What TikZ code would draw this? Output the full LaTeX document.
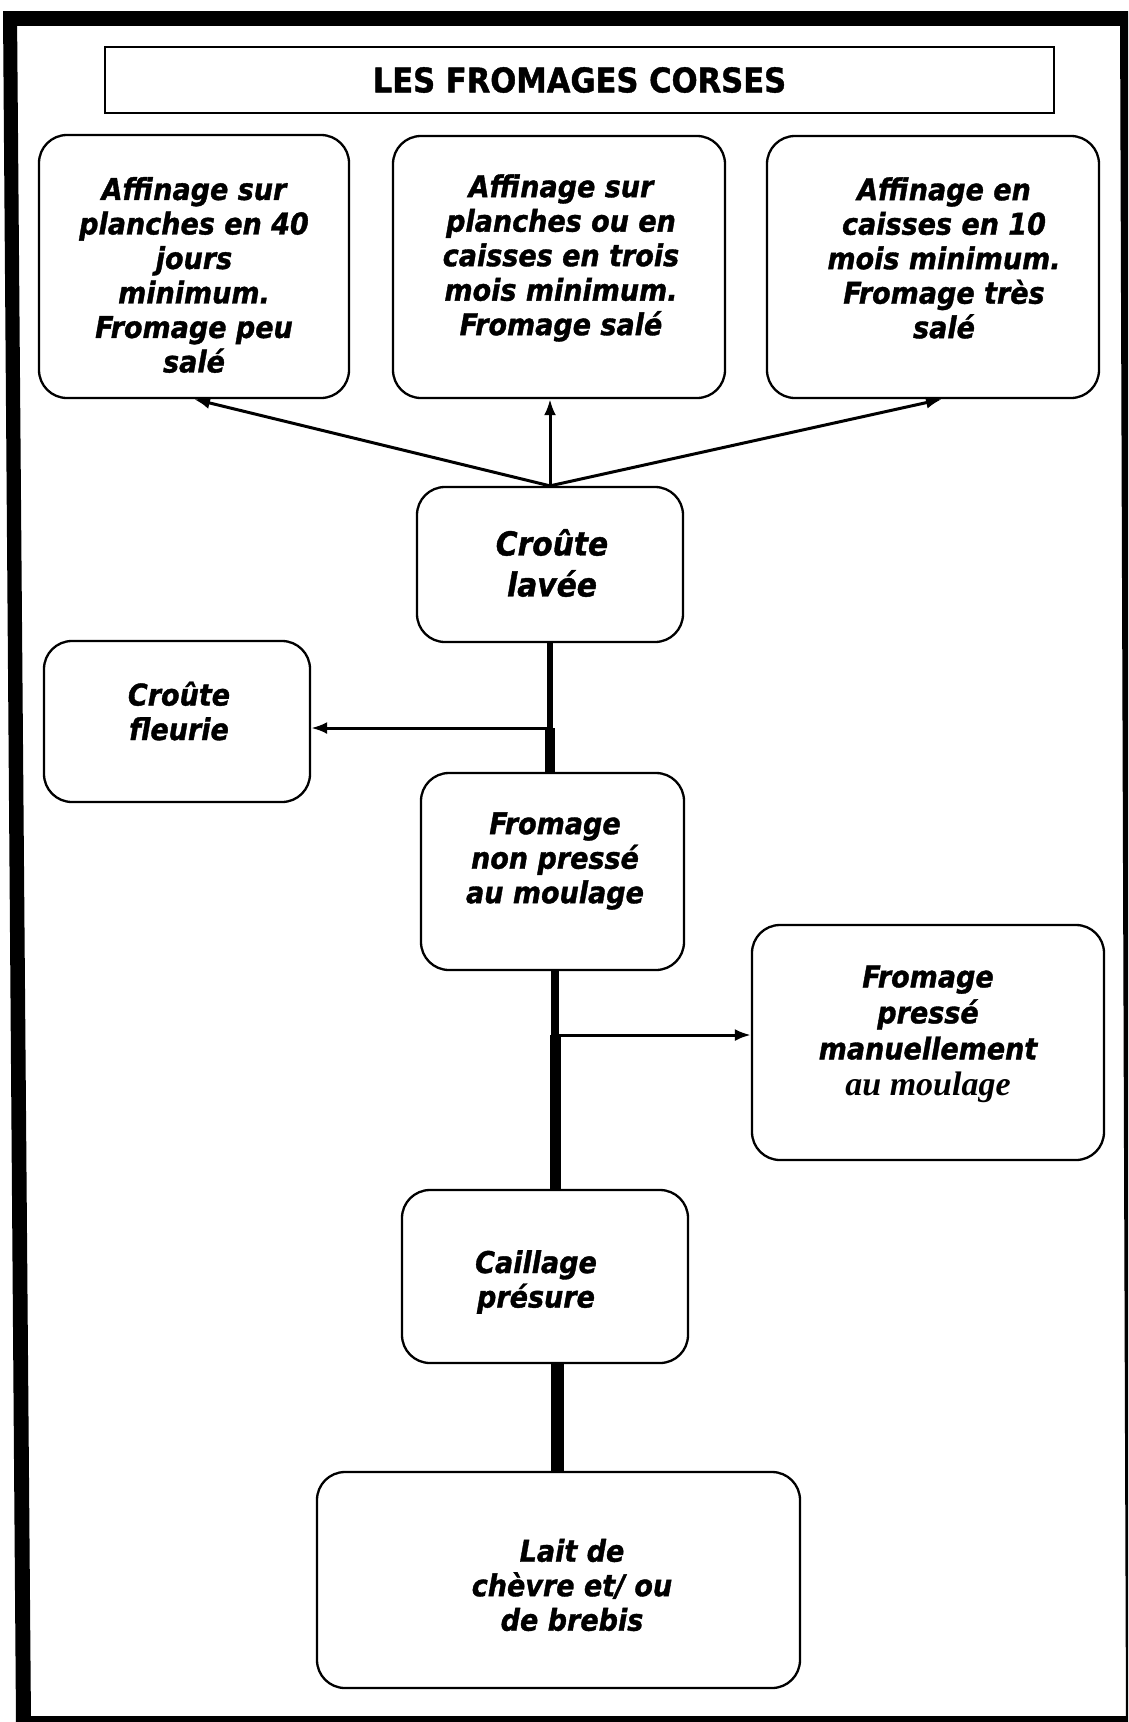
\documentclass[tikz,border=0pt]{standalone}
\usepackage{fontspec}
\setmainfont{DejaVu Sans}[FakeStretch=0.9, BoldItalicFeatures={FakeBold=1.2}, BoldFeatures={FakeBold=1.2}]
\newfontfamily\tnr{Liberation Serif}
\usetikzlibrary{arrows.meta,calc}
\begin{document}
\begin{tikzpicture}[x=1pt,y=-1pt,
  box/.style={draw, line width=2.3pt, rounded corners=28pt, inner sep=0pt},
  txt/.style={align=center, inner sep=0pt, font=\fontsize{30}{34.5}\selectfont\bfseries\itshape},
  arr/.style={line width=3pt, -{Latex[length=16pt,width=12pt]}},
  frame/.style={fill=black}]
\useasboundingbox (0,0) rectangle (1128,1722);
% outer frame (slightly skewed, as scanned)
\fill[frame] (3,11) -- (17,11) -- (31,1722) -- (16,1722) -- cycle;
\fill[frame] (3,11) rectangle (1128,26);
\fill[frame] (1120,11) -- (1128,11) -- (1128,1722) -- (1126,1722) -- cycle;
\fill[frame] (16,1716) rectangle (1128,1722);
% title
\node[draw, line width=2pt, minimum width=949pt, minimum height=66pt, inner sep=0pt,
  font=\fontsize{34}{40}\selectfont\bfseries] (title) at (579.5,80) {LES FROMAGES CORSES};
% boxes
\node[box, minimum width=310pt, minimum height=263pt] (a1) at (194,266.5) {};
\node[box, minimum width=332pt, minimum height=262pt] (a2) at (559,267) {};
\node[box, minimum width=332pt, minimum height=262pt] (a3) at (933,267) {};
\node[box, minimum width=266pt, minimum height=155pt] (cl) at (550,564.5) {};
\node[box, minimum width=266pt, minimum height=161pt] (fl) at (177,721.5) {};
\node[box, minimum width=263pt, minimum height=197pt] (fnp) at (552.5,871.5) {};
\node[box, minimum width=352pt, minimum height=235pt] (fp) at (928,1042.5) {};
\node[box, minimum width=286pt, minimum height=173pt] (cai) at (545,1276.5) {};
\node[box, minimum width=483pt, minimum height=216pt] (lait) at (558.5,1580) {};
% texts
\node[txt] (a1t) at (194,275) {Affinage sur\\planches en 40\\jours\\minimum.\\Fromage peu\\salé};
\node[txt] (a2t) at (561,258) {Affinage sur\\planches ou en\\caisses en trois\\mois minimum.\\Fromage salé};
\node[txt] (a3t) at (944,258) {Affinage en\\caisses en 10\\mois minimum.\\Fromage très\\salé};
\node[txt, font=\fontsize{33}{41}\selectfont\bfseries\itshape] (clt) at (552,563) {Croûte\\lavée};
\node[txt] (flt) at (179,711) {Croûte\\fleurie};
\node[txt] (fnpt) at (555,861) {Fromage\\non pressé\\au moulage};
\node[txt, font=\fontsize{30}{36}\selectfont\bfseries\itshape] (fpt) at (928,1034) {Fromage\\pressé\\manuellement\\{\tnr\fontsize{34}{36}\selectfont au moulage}};
\node[txt] (cait) at (536,1282) {Caillage\\présure};
\node[txt] (laitt) at (572,1585) {Lait de\\chèvre et/ ou\\de brebis};
% arrows to top boxes
\draw[arr] (cl.north) -- (a1.south);
\draw[arr] (cl.north) -- (cl.north |- a2.south);
\draw[arr] (cl.north) -- ($(a3.south)+(9,0)$);
% spine
\coordinate (j1) at (550,728);
\coordinate (j2) at (555,1035);
\coordinate (sp) at (557,0);
\draw[line width=6.5pt] (cl.south) -- (j1);
\draw[line width=10pt] (j1) -- (fnp.north -| j1);
\draw[arr] (j1) -- (j1 -| fl.east);
\draw[line width=8pt] (fnp.south -| j2) -- (j2);
\draw[line width=11pt] (j2) -- (cai.north -| j2);
\draw[arr] (j2) -- (j2 -| fp.west);
\draw[line width=13pt] (cai.south -| sp) -- (lait.north -| sp);
\end{tikzpicture}
\end{document}
